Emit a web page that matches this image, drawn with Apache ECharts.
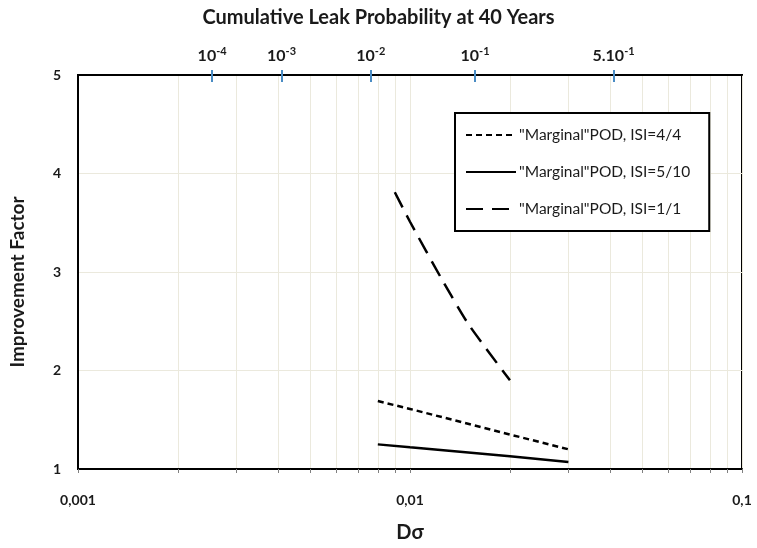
<!DOCTYPE html>
<html>
<head>
<meta charset="utf-8">
<script src="https://cdn.jsdelivr.net/npm/echarts@6/dist/echarts.min.js"></script>
<style>html,body{margin:0;padding:0;background:#fff}#c{width:757px;height:548px}</style>
</head>
<body>
<div id="c"></div>
<script>
// ---- data ----
const seriesNames = ['"Marginal"POD, ISI=4/4', '"Marginal"POD, ISI=5/10', '"Marginal"POD, ISI=1/1'];
const dsig44 = [0.008, 0.01, 0.02, 0.03];
const imp44 = [1.69, 1.61, 1.35, 1.20];
const dsig510 = [0.008, 0.01, 0.02, 0.03];
const imp510 = [1.25, 1.22, 1.13, 1.07];
const dsig11 = [0.009, 0.01, 0.0125, 0.015, 0.02];
const imp11 = [3.81, 3.51, 2.92, 2.47, 1.90];
// bottom axis ticks (log minor grid) and labels
const bottomTicks = [0.001,0.002,0.003,0.004,0.005,0.006,0.007,0.008,0.009,0.01,0.02,0.03,0.04,0.05,0.06,0.07,0.08,0.09,0.1];
const bottomLabels = [0.001, 0.01, 0.1];
// top axis: Dσ positions and their cumulative leak probability labels
const topTickPos = [0.002535, 0.004102, 0.00762, 0.0157, 0.04103];
const topTickLabels = ['10{s|-4}', '10{s|-3}', '10{s|-2}', '10{s|-1}', '5.10{s|-1}'];
const yTicks = [1, 2, 3, 4, 5];

const FONT = 'Lato';
const txt = '#1a1a1a';
const gridCol = '#ebe9dd';
const tickBlue = '#4a8cc4';

const pair = (xs, ys) => xs.map((x, i) => [x, ys[i]]);

const chart = echarts.init(document.getElementById('c'), null, {renderer: 'canvas'});
chart.setOption({
  animation: false,
  backgroundColor: '#fff',
  textStyle: {fontFamily: FONT},
  title: {
    text: 'Cumulative Leak Probability at 40 Years',
    left: 'center', top: 3,
    textStyle: {fontFamily: FONT, fontWeight: 'bold', fontSize: 20, color: txt}
  },
  grid: {left: 73, right: 15, top: 75, bottom: 77, show: true, borderColor: '#000', borderWidth: 2, backgroundColor: 'transparent'},
  legend: {
    orient: 'vertical', left: 455, top: 113,
    data: seriesNames,
    backgroundColor: '#fff',
    borderColor: '#000', borderWidth: 2,
    padding: [14, 19, 14, 10],
    itemGap: 21, itemWidth: 50, itemHeight: 14,
    itemStyle: {opacity: 0},
    textStyle: {fontFamily: FONT, fontSize: 15.5, color: txt, padding: [0, 0, 0, -2]},
    selectedMode: false
  },
  xAxis: [
    {
      type: 'log', logBase: 10, min: 0.001, max: 0.1, position: 'bottom',
      name: 'Dσ', nameLocation: 'middle', nameGap: 54,
      nameTextStyle: {fontFamily: FONT, fontWeight: 'bold', fontSize: 20, color: txt},
      axisLine: {show: true, lineStyle: {color: '#000', width: 2}},
      axisTick: {show: true, length: 4, customValues: bottomTicks, lineStyle: {color: '#808080', width: 1}},
      splitLine: {show: true, lineStyle: {color: gridCol, width: 1}},
      axisLabel: {
        customValues: bottomLabels, margin: 24,
        fontFamily: FONT, fontWeight: 'bold', fontSize: 14, color: txt,
        formatter: v => String(v).replace('.', ',')
      }
    },
    {
      type: 'log', logBase: 10, min: 0.001, max: 0.1, position: 'top',
      axisLine: {show: true, lineStyle: {color: '#000', width: 2}},
      axisTick: {show: true, length: 5, customValues: topTickPos, lineStyle: {color: tickBlue, width: 2}},
      splitLine: {show: false},
      axisLabel: {
        customValues: topTickPos, margin: 10,
        fontFamily: FONT, fontWeight: 'bold', fontSize: 16, color: txt,
        formatter: v => {
          let best = 0;
          topTickPos.forEach((p, i) => { if (Math.abs(Math.log(p) - Math.log(v)) < Math.abs(Math.log(topTickPos[best]) - Math.log(v))) best = i; });
          return topTickLabels[best];
        },
        rich: {s: {fontFamily: FONT, fontWeight: 'bold', fontSize: 11, color: txt, verticalAlign: 'top', padding: [0, 0, 8, 0]}}
      }
    },
    {
      type: 'log', logBase: 10, min: 0.001, max: 0.1, position: 'top', offset: 0,
      axisLine: {show: false},
      axisTick: {show: true, inside: true, length: 7, customValues: topTickPos, lineStyle: {color: tickBlue, width: 2}},
      splitLine: {show: false},
      axisLabel: {show: false}
    }
  ],
  yAxis: {
    type: 'value', min: 1, max: 5, interval: 1,
    name: 'Improvement Factor', nameLocation: 'middle', nameGap: 51, nameRotate: 90,
    nameTextStyle: {fontFamily: FONT, fontWeight: 'bold', fontSize: 19, color: txt, padding: [0, 20, 0, 0]},
    axisLine: {show: true, lineStyle: {color: '#000', width: 2}},
    axisTick: {show: false},
    splitLine: {show: true, lineStyle: {color: gridCol, width: 1}},
    axisLabel: {
      customValues: yTicks, margin: 17,
      fontFamily: FONT, fontWeight: 'bold', fontSize: 14, color: txt
    }
  },
  series: [
    {
      name: seriesNames[0], type: 'line', xAxisIndex: 0, data: pair(dsig44, imp44),
      symbol: 'none', lineStyle: {color: '#000', width: 2.5, type: [6, 4]}, itemStyle: {color: '#000'}
    },
    {
      name: seriesNames[1], type: 'line', xAxisIndex: 0, data: pair(dsig510, imp510),
      symbol: 'none', lineStyle: {color: '#000', width: 2.5, type: 'solid'}, itemStyle: {color: '#000'}
    },
    {
      name: seriesNames[2], type: 'line', xAxisIndex: 0, data: pair(dsig11, imp11), smooth: 0.2,
      symbol: 'none', lineStyle: {color: '#000', width: 2.5, type: [17, 9]}, itemStyle: {color: '#000'}
    }
  ]
});
</script>
</body>
</html>
